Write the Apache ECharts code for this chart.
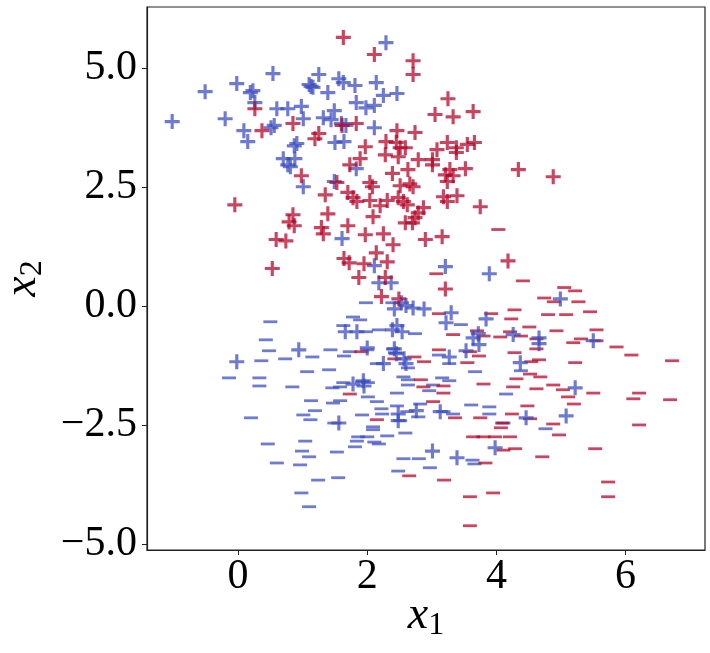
<!DOCTYPE html>
<html>
<head>
<meta charset="utf-8">
<script src="https://cdn.jsdelivr.net/npm/echarts@6/dist/echarts.min.js"></script>
<style>
  html, body { margin: 0; padding: 0; background: #fff; }
  #chart { width: 710px; height: 653px; }
</style>
</head>
<body>
<div id="chart"></div>
<script>
// class +1, drawn as "+" ; colour = predicted side
const redPlus = [
  [1.63,5.65],[2.11,5.29],[2.71,5.16],[2.71,4.87],[3.25,4.36],[3.05,4.03],[3.33,3.98],[3.64,4.09],
  [0.26,4.15],[0.37,3.69],[0.85,3.84],[1.19,3.52],[1.25,3.63],[1.61,3.80],[1.83,3.84],
  [2.46,3.69],[2.74,3.65],[2.29,3.46],[2.45,3.44],[2.51,3.33],[2.59,3.33],[1.97,3.35],[2.28,3.18],[2.48,3.14],
  [1.89,3.10],[1.73,2.97],[2.79,3.08],[3.01,3.08],[3.01,2.97],[3.08,3.29],[3.24,3.44],[3.38,3.33],[3.38,3.23],
  [3.55,3.40],[3.66,3.44],[3.52,2.89],[3.28,2.87],[3.21,2.76],[3.33,2.74],[3.24,2.62],
  [2.39,2.79],[2.63,2.87],[2.04,2.60],[2.08,2.51],[2.51,2.53],[2.66,2.57],[2.71,2.51],[0.98,2.74],[1.53,2.60],
  [1.35,2.34],[1.70,2.39],[1.78,2.28],[1.84,2.20],[2.04,2.22],[2.20,2.11],[2.31,2.22],[2.48,2.28],[2.56,2.20],
  [2.62,2.13],[3.18,2.30],[3.24,2.20],[3.39,2.32],[3.75,2.09],[2.87,2.07],[2.79,1.96],[2.74,1.86],[2.59,1.75],
  [2.70,1.75],[2.09,1.88],[1.70,1.69],[1.97,1.50],[2.25,1.52],[2.90,1.40],[3.16,1.46],[2.40,1.29],
  [2.14,1.12],[1.64,1.00],[1.72,0.91],[1.95,0.89],[2.31,0.93],[1.87,0.60],[2.28,0.60],[2.22,0.20],[2.49,0.15],
  [3.21,0.36],[4.18,0.95],[4.34,2.87],[4.88,2.72],
  [-0.05,2.13],[0.85,1.92],[0.79,1.77],[0.87,1.69],[1.39,1.94],[1.29,1.65],[1.32,1.52],[0.59,1.40],[0.74,1.37],[0.53,0.79]
];
const bluePlus = [
  [-1.02,3.88],[-0.51,4.51],[-0.20,3.94],[-0.02,4.68],[0.19,4.49],[0.23,4.53],[0.26,4.28],[0.54,4.89],
  [0.09,3.69],[0.15,3.46],[0.56,3.80],[0.51,3.75],[0.60,4.15],[0.77,4.15],[0.98,4.20],[1.01,3.94],
  [1.25,4.87],[1.13,4.62],[1.10,4.66],[1.16,4.60],[1.39,4.49],[1.32,3.96],[1.49,4.11],[1.44,3.92],[1.50,3.44],
  [0.87,3.37],[0.91,3.42],[0.70,3.10],[0.88,3.10],[0.77,2.97],[0.81,2.93],[1.01,2.51],[1.49,2.62],
  [1.56,4.78],[1.63,4.70],[1.81,4.64],[2.14,4.70],[2.25,4.43],[2.46,4.47],[1.83,4.28],[1.98,4.17],[2.11,4.22],
  [2.11,3.75],[1.60,3.84],[1.67,3.80],[1.64,3.46],[1.83,2.89],[2.29,5.54],
  [1.61,1.42],[2.11,0.85],[2.18,0.49],[2.37,0.49],[3.21,0.83],[3.89,0.68],
  [-0.02,-1.17],[0.94,-0.92],[1.66,-0.54],[1.84,-0.54],[2.42,-0.06],[2.53,0.07],[2.60,0.01],[2.71,-0.04],
  [2.88,-0.06],[3.30,-0.14],[3.22,-0.35],[3.84,-0.27],[2.39,-0.50],[2.46,-0.41],[2.54,-0.54],[2.00,-0.88],
  [2.42,-0.90],[2.45,-1.00],[2.57,-1.11],[2.60,-1.21],[2.25,-1.21],[3.27,-1.07],[3.53,-0.94],[3.64,-0.67],
  [3.72,-0.58],[3.73,-0.81],[4.26,-0.60],[4.37,-1.19],[4.99,0.15],[4.66,-0.67],[4.66,-0.79],[5.50,-0.73],
  [1.78,-1.64],[1.94,-1.57],[1.95,-1.68],[1.56,-2.46],[2.48,-2.27],[2.48,-2.41],[2.76,-2.20],[3.13,-2.22],
  [3.01,-3.05],[3.39,-3.19],[3.98,-2.98],[4.46,-2.35],[5.08,-2.31],[5.22,-1.72]
];
// class -1, drawn as "-"
const blueMinus = [
  [0.50,-0.33],[0.43,-0.71],[0.48,-0.94],[0.36,-1.15],[0.73,-1.11],[1.15,-1.07],[1.43,-0.92],[1.41,-1.34],
  [1.98,0.07],[2.39,0.07],[1.78,-0.23],[1.89,-0.29],[1.63,-0.41],[2.18,-0.50],[1.98,-0.54],[1.64,-1.05],
  [1.73,-0.96],[2.00,-0.92],[1.07,-1.38],[2.15,-1.21],[2.40,-0.90],[2.43,-0.98],[0.84,-1.70],[1.46,-1.72],
  [1.58,-1.70],[1.63,-1.61],[1.92,-1.59],[2.01,-1.61],[2.46,-1.83],[1.13,-1.99],[1.58,-1.99],[1.47,-2.04],
  [2.01,-1.91],[2.15,-2.01],[1.19,-2.20],[1.01,-2.29],[1.12,-2.39],[1.92,-2.29],[2.22,-2.16],[2.23,-2.27],
  [2.46,-2.10],[2.09,-2.54],[2.09,-2.60],[2.00,-2.75],[1.86,-2.75],[1.84,-2.84],[2.31,-2.73],[2.11,-2.86],
  [2.18,-2.90],[1.81,-2.96],[2.48,-3.47],
  [-0.14,-1.51],[0.33,-1.51],[0.33,-1.68],[0.20,-2.35],[1.49,-2.46],[0.46,-2.90],[1.04,-2.84],[0.99,-3.05],
  [1.10,-3.17],[1.53,-3.07],[0.60,-3.30],[0.96,-3.34],[1.24,-3.66],[1.55,-3.61],[0.98,-3.93],[1.10,-4.22],
  [2.74,-0.58],[3.45,-0.39],[3.11,-1.03],[3.27,-1.21],[3.67,-1.38],[2.56,-1.49],[2.63,-1.55],[2.63,-1.66],
  [3.16,-1.51],[3.27,-1.57],[3.02,-1.66],[2.96,-1.78],[4.15,-1.85],[2.82,-2.06],[2.62,-2.22],[2.51,-2.41],
  [2.79,-2.33],[3.18,-2.22],[3.33,-2.27],[3.61,-2.08],[3.89,-2.12],[3.89,-2.27],[2.59,-2.67],[2.80,-3.21],
  [2.56,-3.21],[2.97,-3.40],[3.63,-3.24],[3.66,-3.32],[4.11,-2.46],[4.76,-2.58],[4.38,-1.36],[2.63,-1.30]
];
const redMinus = [
  [4.03,1.61],[3.07,0.68],[4.41,0.53],[5.05,0.39],[5.22,0.32],[4.74,0.17],[4.89,0.09],[5.27,0.09],
  [3.11,-0.16],[3.92,-0.16],[4.28,-0.08],[4.23,-0.27],[4.80,-0.18],[5.08,-0.18],[5.45,-0.12],[4.51,-0.44],
  [4.93,-0.52],[5.55,-0.50],[3.33,-0.60],[3.70,-0.52],[3.80,-0.63],[4.06,-0.65],[4.21,-0.54],[4.38,-0.63],
  [4.62,-0.69],[5.31,-0.69],[5.19,-0.77],[5.55,-0.73],[5.86,-0.86],[4.62,-0.90],[6.09,-1.03],[1.91,-0.96],
  [3.11,-0.92],[3.59,-0.96],[3.73,-1.05],[4.28,-0.98],[4.66,-1.13],[4.54,-1.17],[5.22,-1.19],[6.72,-1.15],
  [2.73,-1.07],[2.88,-1.17],[3.55,-1.19],[2.42,-1.11],[1.73,-1.85],[2.15,-2.39],[2.83,-1.55],[2.87,-1.70],
  [3.18,-1.68],[3.18,-1.83],[3.80,-1.64],[4.31,-1.53],[4.26,-1.70],[4.52,-1.43],[4.68,-1.49],[4.62,-1.74],
  [3.02,-2.01],[3.36,-2.35],[3.75,-2.35],[4.24,-2.27],[4.48,-2.10],[4.52,-2.37],[4.09,-2.46],[4.07,-2.56],
  [3.64,-2.75],[3.80,-2.75],[3.98,-2.75],[4.21,-2.75],[4.11,-3.03],[4.29,-3.00],[3.83,-3.30],[2.65,-3.57],
  [3.19,-3.66],[3.59,-4.01],[3.95,-3.93],[3.59,-4.62],[4.88,-1.66],[5.03,-1.76],[5.11,-1.91],[5.50,-1.83],
  [5.20,-2.06],[6.21,-1.83],[6.12,-1.95],[6.69,-1.97],[4.88,-2.48],[4.97,-2.71],[6.21,-2.50],[5.53,-3.00],
  [4.71,-3.17],[5.73,-3.70],[5.73,-4.01]
];
const xTicks = [0, 2, 4, 6];
const yTicks = [-5, -2.5, 0, 2.5, 5];

const BLUE = "rgba(59, 76, 192, 0.92)";
const RED = "rgba(180, 4, 38, 0.92)";
const PLUS = "path://M-1,-0.21L-0.21,-0.21L-0.21,-1L0.21,-1L0.21,-0.21L1,-0.21L1,0.21L0.21,0.21L0.21,1L-0.21,1L-0.21,0.21L-1,0.21Z";
const FONT = "Liberation Serif";

function minus(v) {
  return String(v).replace("-", "\u2212");
}

const nameRich = {
  v: { fontFamily: FONT, fontStyle: "italic", fontSize: 46, color: "#000" },
  s: { fontFamily: FONT, fontSize: 32, color: "#000", verticalAlign: "bottom", padding: [20, 0, 0, 0] }
};

const chart = echarts.init(document.getElementById("chart"));
chart.setOption({
  animation: false,
  grid: {
    left: 147,
    right: 5,
    top: 7,
    bottom: 103,
    outerBoundsMode: "none",
    containLabel: false,
    show: true,
    borderColor: "#222",
    borderWidth: 1.2
  },
  xAxis: {
    type: "value",
    min: -1.41,
    max: 7.23,
    name: "{v|x}{s|1}",
    nameLocation: "middle",
    nameGap: 40,
    nameMoveOverlap: false,
    nameTextStyle: { rich: nameRich },
    axisLine: { show: true, onZero: false, lineStyle: { color: "#222", width: 1.2 } },
    axisTick: { show: true, length: 5, lineStyle: { color: "#222" }, customValues: xTicks },
    axisLabel: {
      customValues: xTicks,
      margin: 6,
      fontFamily: FONT,
      fontSize: 42,
      color: "#000",
      formatter: v => minus(v)
    },
    splitLine: { show: false }
  },
  yAxis: {
    type: "value",
    min: -5.13,
    max: 6.29,
    name: "{v|x}{s|2}",
    nameLocation: "middle",
    nameGap: 98,
    nameMoveOverlap: false,
    nameRotate: 90,
    nameTextStyle: { rich: nameRich },
    axisLine: { show: true, onZero: false, lineStyle: { color: "#222", width: 1.2 } },
    axisTick: { show: true, length: 5, lineStyle: { color: "#222" }, customValues: yTicks },
    axisLabel: {
      customValues: yTicks,
      margin: 10,
      fontFamily: FONT,
      fontSize: 42,
      color: "#000",
      formatter: v => minus(v.toFixed(1))
    },
    splitLine: { show: false }
  },
  series: [
    { name: "blue -", type: "scatter", data: blueMinus, symbol: "rect", symbolSize: [14, 2.8], itemStyle: { color: BLUE } },
    { name: "red -", type: "scatter", data: redMinus, symbol: "rect", symbolSize: [14, 2.8], itemStyle: { color: RED } },
    { name: "blue +", type: "scatter", data: bluePlus, symbol: PLUS, symbolSize: 15, itemStyle: { color: BLUE } },
    { name: "red +", type: "scatter", data: redPlus, symbol: PLUS, symbolSize: 15, itemStyle: { color: RED } }
  ]
});
</script>
</body>
</html>
